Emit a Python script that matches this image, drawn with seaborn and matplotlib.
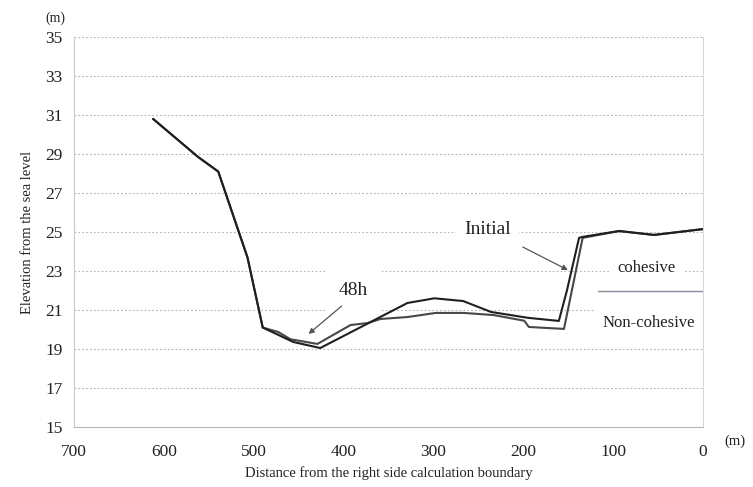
import matplotlib
matplotlib.use("Agg")
import matplotlib.pyplot as plt
import seaborn as sns
import pandas as pd

# Bed profile along the river cross-section (distance in m, elevation in m)
initial_dist = [612, 562, 539.5, 507, 490, 456, 426, 329, 299, 267, 236, 195, 160.5, 151.5, 138, 134, 93.5, 54.5, 0]
initial_elev = [30.8, 28.85, 28.1, 23.7, 20.1, 19.36, 19.05, 21.36, 21.6, 21.46, 20.9, 20.6, 20.44, 22.0, 24.7, 24.75, 25.05, 24.85, 25.15]

h48_dist = [612, 562, 539.5, 507, 490, 472.6, 459.2, 429.1, 392.3, 373.4, 358.9, 328.8, 297.5, 266.3, 232.9, 199, 193.9, 154.8, 134, 93.5, 54.5, 0]
h48_elev = [30.8, 28.85, 28.1, 23.7, 20.1, 19.87, 19.5, 19.26, 20.23, 20.33, 20.54, 20.64, 20.85, 20.85, 20.74, 20.45, 20.13, 20.03, 24.7, 25.05, 24.85, 25.15]

# Divider between the two bed-material labels
divider_dist = [117, 0]
divider_elev = [22.0, 22.0]

x_ticks = [700, 600, 500, 400, 300, 200, 100, 0]
y_ticks = [15, 17, 19, 21, 23, 25, 27, 29, 31, 33, 35]

sns.set_style("white")
plt.rcParams["font.family"] = ["Liberation Serif", "DejaVu Serif"]

fig = plt.figure(figsize=(7.53, 4.87), dpi=100)
ax = fig.add_axes([0.0983, 0.1232, 0.9337 - 0.0983, 0.924 - 0.1232])

df_init = pd.DataFrame({"dist": initial_dist, "elev": initial_elev})
df_48 = pd.DataFrame({"dist": h48_dist, "elev": h48_elev})

sns.lineplot(data=df_48, x="dist", y="elev", ax=ax, color="#474747", lw=1.5,
             sort=False, estimator=None, zorder=3)
sns.lineplot(data=df_init, x="dist", y="elev", ax=ax, color="#1f1f1f", lw=1.5,
             sort=False, estimator=None, zorder=4)
ax.plot(divider_dist, divider_elev, color="#8c8c9c", lw=1.0, zorder=2)

ax.set_xlim(700, 0)
ax.set_ylim(15, 35)
ax.set_xticks(x_ticks)
ax.set_yticks(y_ticks)
ax.set_xticklabels([str(v) for v in x_ticks], fontsize=12.5, color="#222222")
ax.set_yticklabels([str(v) for v in y_ticks], fontsize=12.5, color="#222222")

# Dotted horizontal grid
for yv in y_ticks[1:]:
    ax.axhline(yv, color="#b4b4b4", lw=0.8, ls=(0, (1.5, 2)), zorder=1)

ax.spines["top"].set_visible(False)
ax.spines["left"].set_color("#c8c8c8")
ax.spines["bottom"].set_color("#b8b8b8")
ax.spines["right"].set_color("#d8d8d8")
for s in ["left", "bottom", "right"]:
    ax.spines[s].set_linewidth(0.8)

ax.tick_params(axis="x", direction="out", length=4, width=0.7, color="#b8b8b8", pad=8)
ax.tick_params(axis="y", direction="in", length=3, width=0.7, color="#b8b8b8", pad=8)

ax.set_xlabel("Distance from the right side calculation boundary", fontsize=10.5,
              color="#222222", labelpad=5)
ax.set_ylabel("Elevation from the sea level", fontsize=10.5, color="#222222", labelpad=8)

fig.text(55 / 753, 1 - 18 / 487, "(m)", fontsize=10, ha="center", va="center", color="#222222")
fig.text(735 / 753, 1 - 441 / 487, "(m)", fontsize=10.5, ha="center", va="center", color="#222222")

white_box = dict(facecolor="white", edgecolor="none", pad=6)

ax.annotate("", xy=(150.4, 23.05), xytext=(200.6, 24.23),
            arrowprops=dict(arrowstyle="-|>", color="#555555", lw=0.9,
                            mutation_scale=8, shrinkA=0, shrinkB=0), zorder=5)
ax.text(239.6, 25.15, "Initial", fontsize=14, ha="center", va="center",
        color="#222222", bbox=white_box, zorder=2)

ax.annotate("", xy=(439.1, 19.77), xytext=(402.3, 21.2),
            arrowprops=dict(arrowstyle="-|>", color="#555555", lw=0.9,
                            mutation_scale=8, shrinkA=0, shrinkB=0), zorder=5)
ax.text(389, 22.0, "48h", fontsize=14, ha="center", va="center",
        color="#222222", bbox=dict(facecolor="white", edgecolor="none", pad=9), zorder=2)

ax.text(63.4, 23.15, "cohesive", fontsize=12, ha="center", va="center",
        color="#222222", bbox=white_box, zorder=2)
ax.text(60, 20.33, "Non-cohesive", fontsize=12, ha="center", va="center",
        color="#222222", bbox=white_box, zorder=2)

fig.savefig("out.png", dpi=100, facecolor="white")
